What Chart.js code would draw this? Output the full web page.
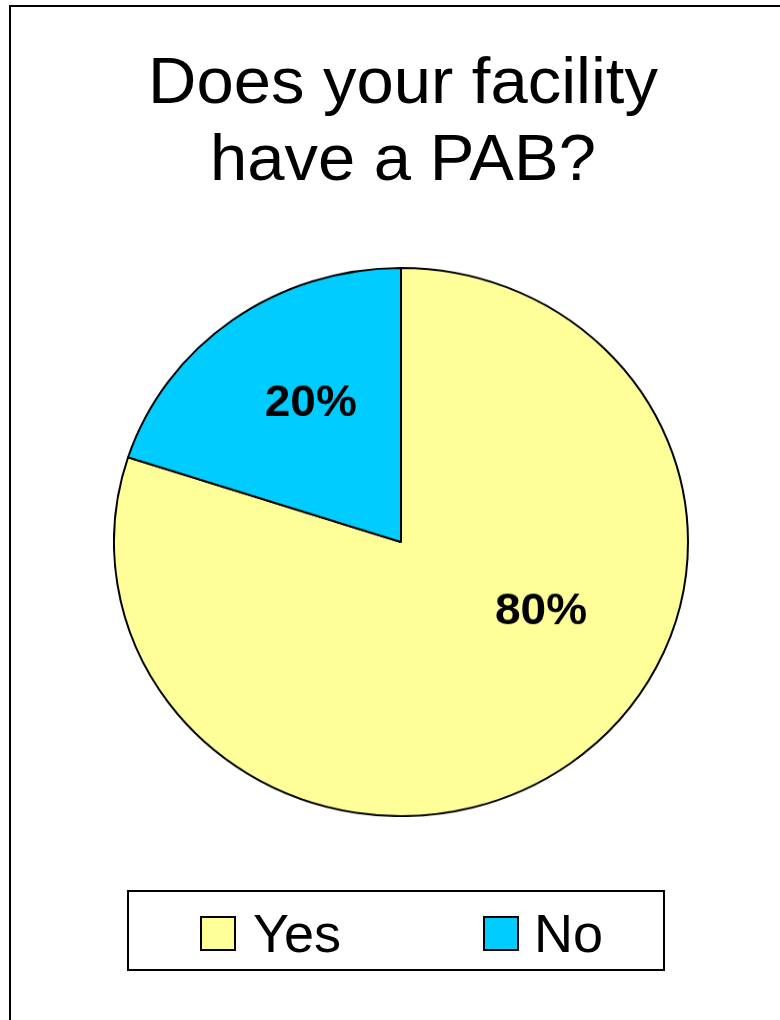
<!DOCTYPE html>
<html>
<head>
<meta charset="utf-8">
<script src="https://cdn.jsdelivr.net/npm/chart.js@4/dist/chart.umd.min.js"></script>
<style>
  html, body { margin: 0; padding: 0; background: #fff; overflow: hidden; }
  body { width: 780px; height: 1020px; position: relative; font-family: "Liberation Sans", Arial, sans-serif; }
  #frame {
    position: absolute; left: 9px; top: 5px; width: 820px; height: 1100px;
    border: 2px solid #000; box-sizing: border-box;
  }
  #title {
    position: absolute; left: 0; top: 42px; width: 806px;
    text-align: center; font-size: 65px; line-height: 77px; color: #000;
    transform: scaleX(1.03); transform-origin: 403px 0;
  }
  /* Excel pie is a touch wider than tall: squash the square canvas */
  #pieWrap {
    position: absolute; left: 113px; top: 267px; width: 576px; height: 576px;
    transform: scaleY(0.955); transform-origin: 0 0;
  }
  #legend {
    position: absolute; left: 127px; top: 890px; width: 538px; height: 81px;
    border: 2px solid #000; box-sizing: border-box; background: #fff;
  }
  .swatch { position: absolute; top: 24px; width: 32px; height: 31px; border: 2px solid #000; }
  .lab { position: absolute; top: 14px; font-size: 54px; line-height: 54px; white-space: nowrap; }
</style>
</head>
<body>
<div id="frame"></div>
<div id="title">Does your facility<br>have a PAB?</div>
<div id="pieWrap"><canvas id="pie" width="576" height="576"></canvas></div>
<div id="legend"></div>

<script>
// ======================
// DATA
// ======================
const labels = ['Yes', 'No'];
const values = [80, 20];
const colors = ['#FFFF99', '#00CCFF'];

// ======================
// LABEL INSIDE SLICES
// ======================
// (Excel-like placement: big slice label sits lower than mid angle)
const labelAngleShift = [-26.5, 4];
const labelDist = [0.55, 0.593];

const sliceLabels = {
  id: 'sliceLabels',
  afterDatasetsDraw(chart) {
    const ctx = chart.ctx;
    const meta = chart.getDatasetMeta(0);
    const total = values.reduce((a, b) => a + b, 0) || 1;

    ctx.save();
    ctx.font = 'bold 46px "Liberation Sans", Arial, sans-serif';
    ctx.fillStyle = '#000';
    ctx.textAlign = 'center';
    ctx.textBaseline = 'middle';

    meta.data.forEach((arc, i) => {
      const p = arc.getProps(['x', 'y', 'startAngle', 'endAngle', 'outerRadius'], true);
      const mid = (p.startAngle + p.endAngle) / 2 + labelAngleShift[i] * Math.PI / 180;
      const r = p.outerRadius * labelDist[i];
      const pct = Math.round(values[i] / total * 100) + '%';
      ctx.fillText(pct, p.x + Math.cos(mid) * r, p.y + Math.sin(mid) * r);
    });
    ctx.restore();
  }
};

new Chart(document.getElementById('pie'), {
  type: 'pie',
  data: {
    labels,
    datasets: [{
      data: values,
      backgroundColor: colors,
      borderColor: '#000',
      borderWidth: 2,
      borderAlign: 'center'
    }]
  },
  options: {
    responsive: false,
    animation: false,
    layout: { padding: 0 },
    plugins: {
      legend: { display: false },
      tooltip: { enabled: false }
    }
  },
  plugins: [sliceLabels]
});

// ======================
// LEGEND (boxed, below pie)
// ======================
const legend = document.getElementById('legend');
const itemX = [71, 354];
const textX = [124, 405];
labels.forEach((lab, i) => {
  const sw = document.createElement('div');
  sw.className = 'swatch';
  sw.style.left = itemX[i] + 'px';
  sw.style.background = colors[i];
  legend.appendChild(sw);

  const t = document.createElement('div');
  t.className = 'lab';
  t.style.left = textX[i] + 'px';
  t.textContent = lab;
  legend.appendChild(t);
});
</script>
</body>
</html>
